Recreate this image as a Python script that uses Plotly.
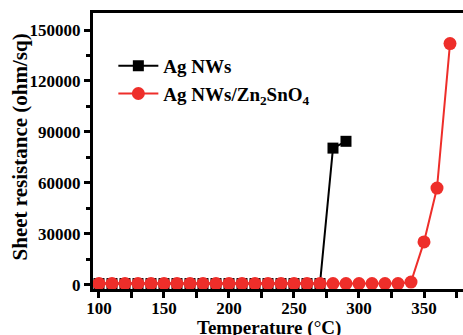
import plotly.graph_objects as go

temp_ag = [100, 110, 120, 130, 140, 150, 160, 170, 180, 190, 200, 210, 220, 230, 240, 250, 260, 270, 280, 290]
res_ag = [800]*18 + [80500, 84500]

temp_zn = [100, 110, 120, 130, 140, 150, 160, 170, 180, 190, 200, 210, 220, 230, 240, 250, 260, 270,
           280, 290, 300, 310, 320, 330, 340, 350, 360, 370]
res_zn = [800]*24 + [1700, 25300, 57000, 142000]

x_ticks = [100, 150, 200, 250, 300, 350]
y_ticks = [0, 30000, 60000, 90000, 120000, 150000]

x_title = "<b>Temperature (</b>°<b>C)</b>"
y_title = "<b>Sheet resistance (ohm/sq)</b>"

font = "Liberation Serif"

fig = go.Figure()
fig.add_trace(go.Scatter(x=temp_ag, y=res_ag, mode="lines+markers", name="<b>Ag NWs</b>",
                         line=dict(color="black", width=2),
                         marker=dict(symbol="square", size=11, color="black")))
fig.add_trace(go.Scatter(x=temp_zn, y=res_zn, mode="lines+markers",
                         name="<b>Ag NWs/Zn<sub>2</sub>SnO<sub>4</sub></b>",
                         line=dict(color="#EE2E2A", width=2),
                         marker=dict(symbol="circle", size=13, color="#EE2E2A")))

fig.update_layout(
    width=463, height=335,
    margin=dict(l=93, r=0, t=13, b=46),
    plot_bgcolor="white", paper_bgcolor="white",
    font=dict(family=font, size=17, color="black"),
    showlegend=True,
    legend=dict(x=0.055, y=0.877, xanchor="left", yanchor="top", bgcolor="rgba(0,0,0,0)",
                font=dict(family=font, size=19, color="black"), tracegroupgap=0, itemwidth=40),
    xaxis=dict(range=[95.4, 380], tickvals=x_ticks, ticktext=[f"<b>{v}</b>" for v in x_ticks],
               showgrid=False, zeroline=False, showline=True, linecolor="black", linewidth=3,
               mirror=True, ticks="outside", ticklen=6, tickwidth=2.5, tickcolor="black",
               automargin=False, ticklabelstandoff=-4,
               minor=dict(dtick=25, tick0=0, ticks="outside", ticklen=6, tickwidth=2.5, tickcolor="black"),
               tickfont=dict(family=font, size=17)),
    yaxis=dict(range=[-2400, 160000], tickvals=y_ticks, ticktext=[f"<b>{v}</b>" for v in y_ticks],
               showgrid=False, zeroline=False, showline=True, linecolor="black", linewidth=3,
               ticks="outside", ticklen=6, tickwidth=2.5, tickcolor="black", automargin=False,
               minor=dict(dtick=15000, tick0=0, ticks="outside", ticklen=4, tickwidth=2.5, tickcolor="black"),
               tickfont=dict(family=font, size=17)),
    annotations=[
        dict(text=x_title, xref="paper", yref="paper", x=0.477, y=0, xanchor="center", yanchor="top",
             yshift=-26, showarrow=False, font=dict(family=font, size=19, color="black")),
        dict(text=y_title, xref="paper", yref="paper", x=0, y=0.513, xanchor="center", yanchor="middle",
             xshift=-73, textangle=-90, showarrow=False, font=dict(family=font, size=21, color="black")),
    ],
)

fig.write_html("out.html")
